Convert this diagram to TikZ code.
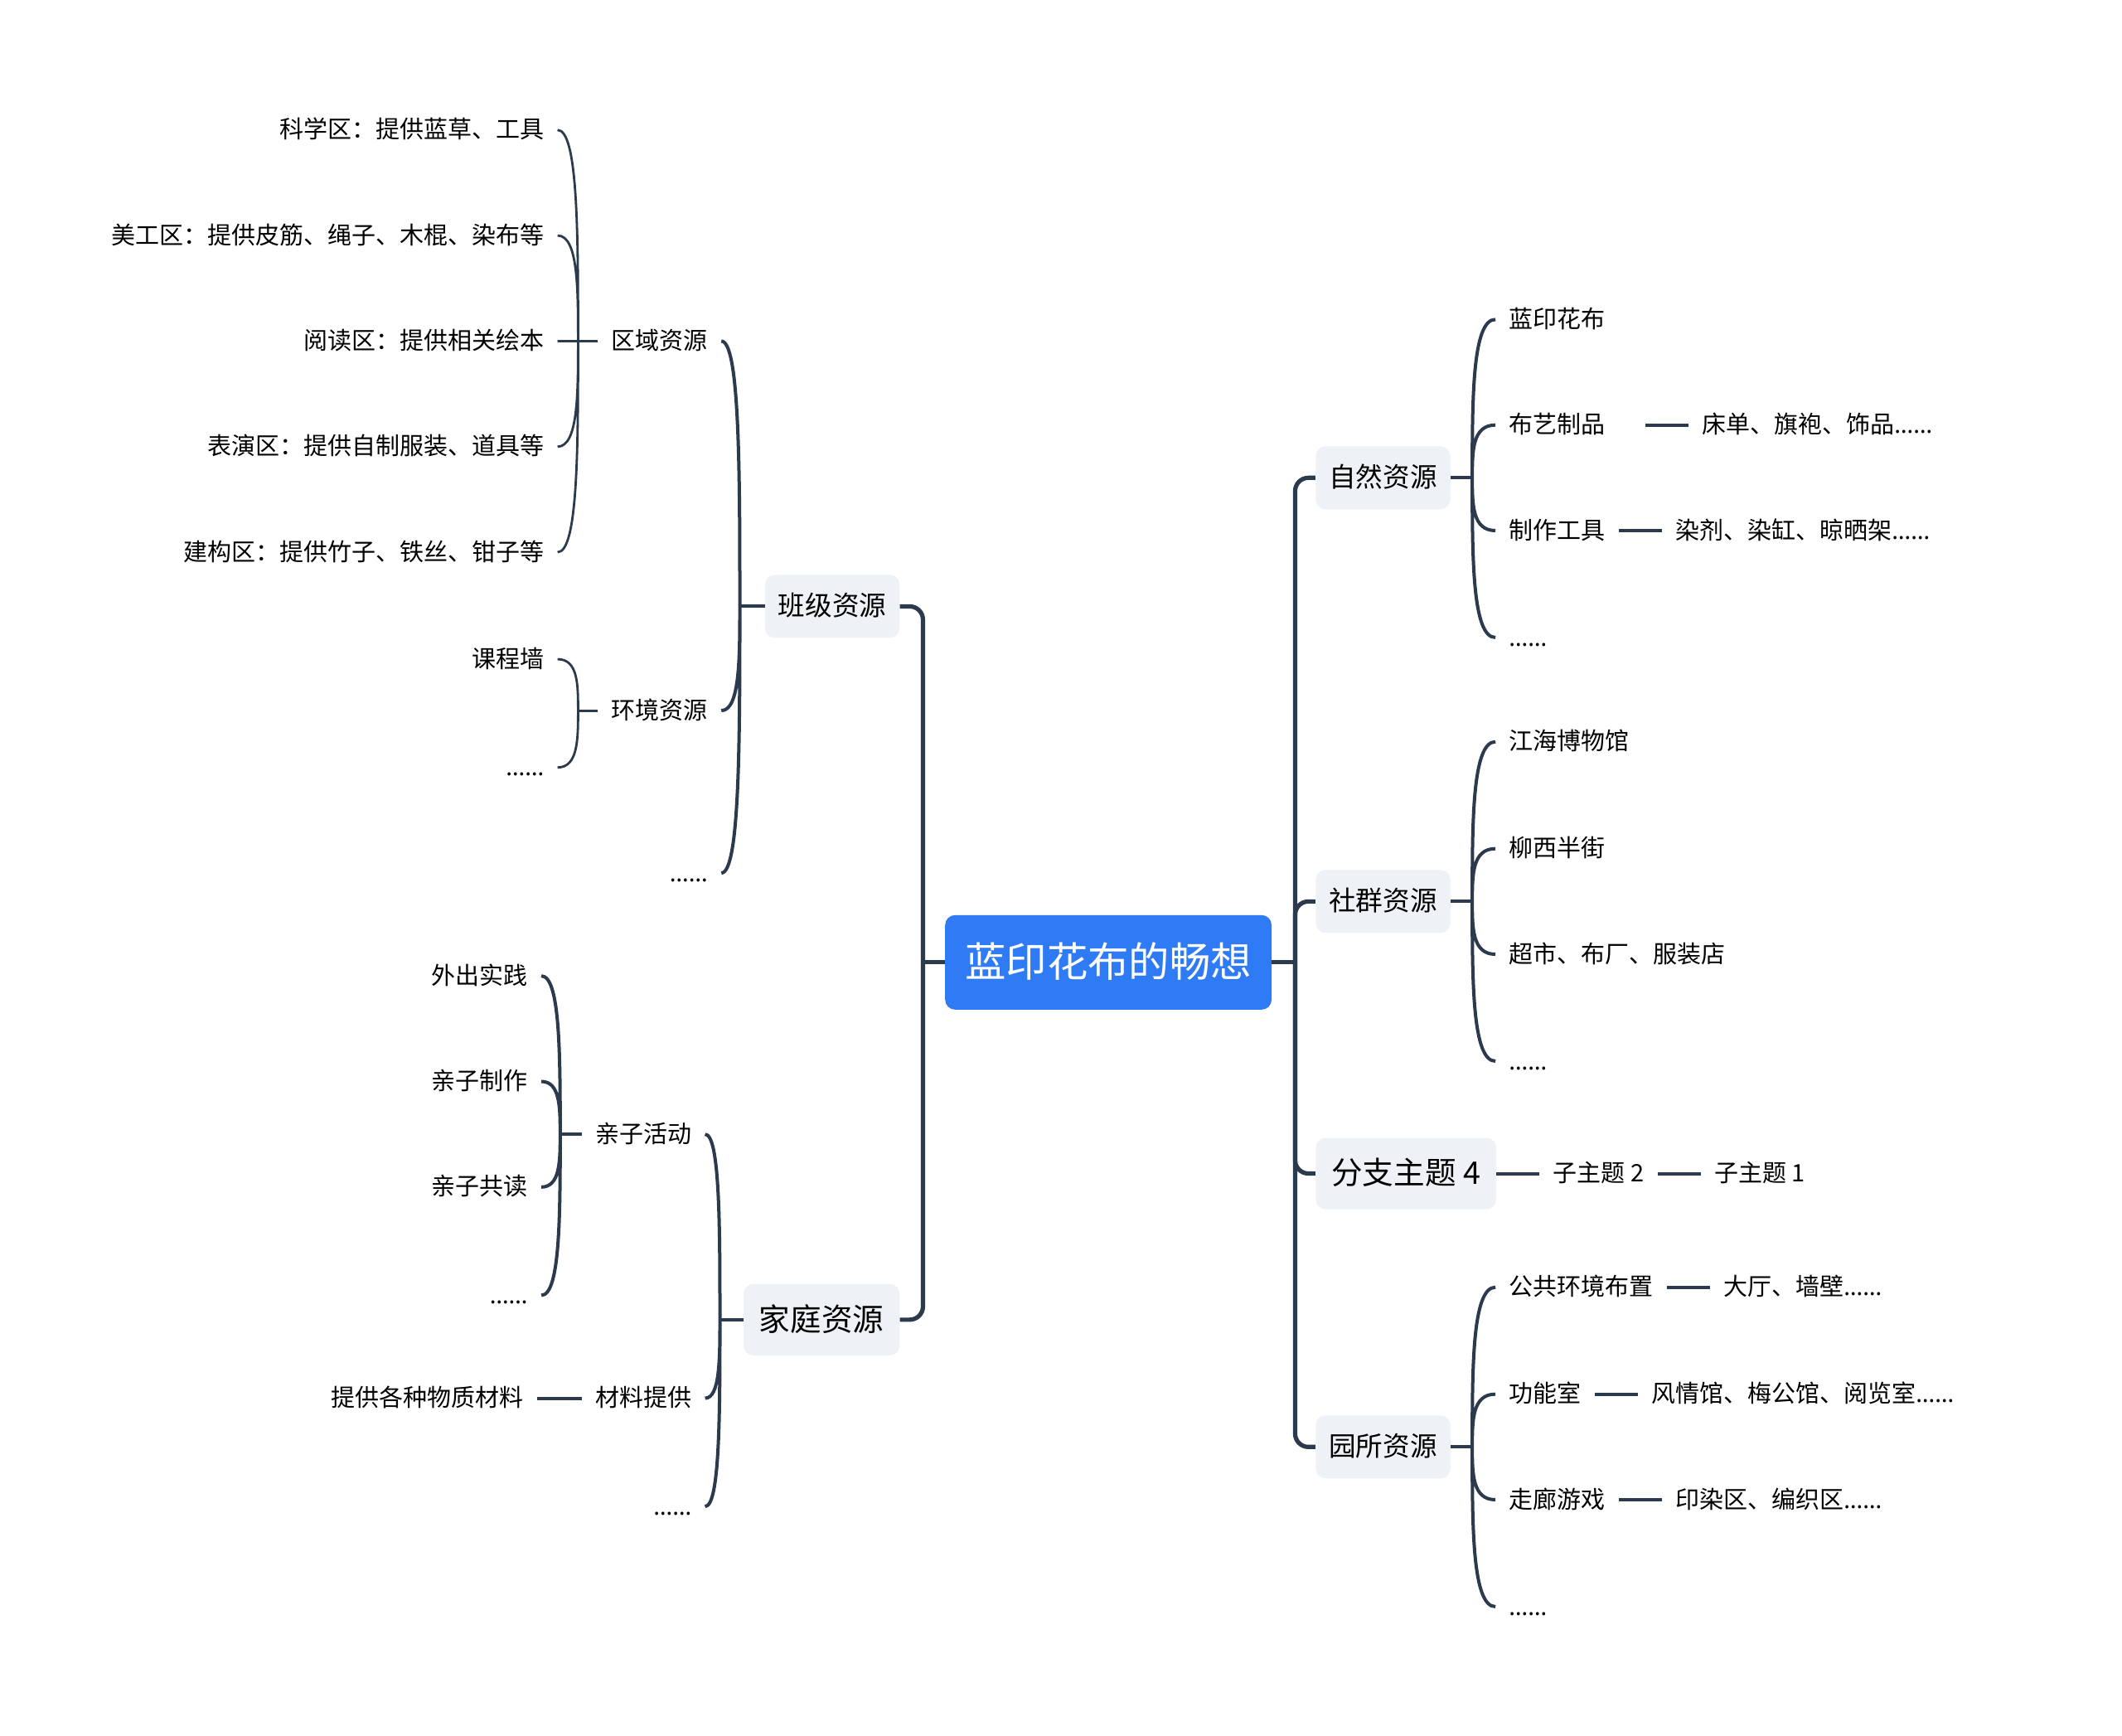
\documentclass[tikz,border=0pt]{standalone}
\usepackage{fontspec}
\setmainfont{Noto Sans CJK SC}
\newfontfamily\dotfont{Noto Sans}
\usetikzlibrary{positioning, calc}

\definecolor{linec}{RGB}{44,58,78}
\definecolor{topicfill}{RGB}{238,241,245}
\definecolor{rootfill}{RGB}{47,123,245}

\tikzset{
  % central topic
  root/.style={fill=rootfill, text=white, rounded corners=6pt,
    font=\fontsize{24.7}{30}\selectfont, inner xsep=12pt,
    minimum height=57pt, text height=21pt, text depth=3.7pt},
  % main branches
  topic/.style={fill=topicfill, rounded corners=6pt,
    font=\fontsize{16.3}{20}\selectfont, inner xsep=8pt,
    minimum height=38pt, text height=13.9pt, text depth=2.4pt},
  bigtopic/.style={topic, font=\fontsize{18.8}{23}\selectfont,
    inner xsep=9.5pt, minimum height=43pt, text height=16pt, text depth=2.8pt},
  % plain labels
  leaf/.style={font=\fontsize{14.5}{18}\selectfont, inner xsep=8pt,
    inner ysep=1pt, text height=12.3pt, text depth=2.2pt},
  main/.style={draw=linec, line width=2.6pt},
  sub/.style={draw=linec, line width=2pt},
  twig/.style={draw=linec, line width=1.4pt},
  % bracket: leaves the junction upright, ends flat at the child
  br/.style={to path={.. controls ($(\tikztostart |- \tikztotarget)!.5!(\tikztostart)$)
    and (\tikztostart |- \tikztotarget) .. (\tikztotarget)}},
}

\begin{document}
\begin{tikzpicture}[x=0.8163pt, y=-0.8163pt]
  \fill[white] (0,0) rectangle (1568,1282);
  \useasboundingbox (0,0) rectangle (1568,1282);

  \node[root] (root) at (819,711) {蓝印花布的畅想};
  \coordinate (ls) at (682,711);
  \coordinate (rs) at (957,711);

  % left side
  \node[topic, anchor=east] (bj) at (665,448) {班级资源};
  \node[bigtopic, anchor=east] (jt) at (665,975) {家庭资源};
  \draw[main] (root.west) -- (ls);
  \draw[main, rounded corners=8pt] (ls) |- (bj.east);
  \draw[main, rounded corners=8pt] (ls) |- (jt.east);

  % right side
  \node[topic, anchor=west] (zr) at (972,353) {自然资源};
  \node[topic, anchor=west] (sq) at (972,666) {社群资源};
  \node[bigtopic, anchor=west] (fz) at (972,867) {分支主题 4};
  \node[topic, anchor=west] (ys) at (972,1069) {园所资源};
  \draw[main] (root.east) -- (rs);
  \draw[main, rounded corners=8pt] (rs) |- (zr.west);
  \draw[main, rounded corners=8pt] (rs) |- (sq.west);
  \draw[main, rounded corners=8pt] (rs) |- (fz.west);
  \draw[main, rounded corners=8pt] (rs) |- (ys.west);

  % 班级资源
  \coordinate[left=15pt of bj.west] (bjj);
  \node[leaf, anchor=east] (qy) at (533,252) {区域资源};
  \node[leaf, anchor=east] (hj) at (533,525) {环境资源};
  \node[leaf, anchor=east] (bjd) at (533,645) {\dotfont ……};
  \draw[sub] (bj.west) -- (bjj);
  \draw[sub] (bjj) to[br] (qy.east) (bjj) to[br] (hj.east) (bjj) to[br] (bjd.east);

  \coordinate[left=12pt of qy.west] (qyj);
  \node[leaf, anchor=east] (q1) at (412,96) {科学区：提供蓝草、工具};
  \node[leaf, anchor=east] (q2) at (412,174) {美工区：提供皮筋、绳子、木棍、染布等};
  \node[leaf, anchor=east] (q3) at (412,252) {阅读区：提供相关绘本};
  \node[leaf, anchor=east] (q4) at (412,330) {表演区：提供自制服装、道具等};
  \node[leaf, anchor=east] (q5) at (412,408) {建构区：提供竹子、铁丝、钳子等};
  \draw[twig] (qy.west) -- (qyj);
  \draw[twig] (qyj) to[br] (q1.east) (qyj) to[br] (q2.east) (qyj) to[br] (q3.east)
    (qyj) to[br] (q4.east) (qyj) to[br] (q5.east);

  \coordinate[left=12pt of hj.west] (hjj);
  \node[leaf, anchor=east] (h1) at (412,487) {课程墙};
  \node[leaf, anchor=east] (h2) at (412,567) {\dotfont ……};
  \draw[twig] (hj.west) -- (hjj);
  \draw[twig] (hjj) to[br] (h1.east) (hjj) to[br] (h2.east);

  % 家庭资源
  \coordinate[left=14pt of jt.west] (jtj);
  \node[leaf, anchor=east] (qz) at (521,838) {亲子活动};
  \node[leaf, anchor=east] (cl) at (521,1033) {材料提供};
  \node[leaf, anchor=east] (jtd) at (521,1113) {\dotfont ……};
  \draw[sub] (jt.west) -- (jtj);
  \draw[sub] (jtj) to[br] (qz.east) (jtj) to[br] (cl.east) (jtj) to[br] (jtd.east);

  \coordinate[left=13pt of qz.west] (qzj);
  \node[leaf, anchor=east] (p1) at (400,721) {外出实践};
  \node[leaf, anchor=east] (p2) at (400,799) {亲子制作};
  \node[leaf, anchor=east] (p3) at (400,877) {亲子共读};
  \node[leaf, anchor=east] (p4) at (400,957) {\dotfont ……};
  \draw[sub] (qz.west) -- (qzj);
  \draw[sub] (qzj) to[br] (p1.east) (qzj) to[br] (p2.east) (qzj) to[br] (p3.east)
    (qzj) to[br] (p4.east);

  \node[leaf, left=27pt of cl] (cl1) {提供各种物质材料};
  \draw[sub] (cl.west) -- (cl1.east);

  % 自然资源
  \coordinate[right=13pt of zr.east] (zrj);
  \node[leaf, anchor=west] (z1) at (1105,236) {蓝印花布};
  \node[leaf, anchor=west] (z2) at (1105,314) {布艺制品};
  \node[leaf, anchor=west] (z3) at (1105,392) {制作工具};
  \node[leaf, anchor=west] (z4) at (1105,471) {\dotfont ……};
  \draw[sub] (zr.east) -- (zrj);
  \draw[sub] (zrj) to[br] (z1.west) (zrj) to[br] (z2.west) (zrj) to[br] (z3.west)
    (zrj) to[br] (z4.west);
  \node[leaf, right=42pt of z2] (z2a) {床单、旗袍、饰品{\dotfont ……}};
  \node[leaf, right=26pt of z3] (z3a) {染剂、染缸、晾晒架{\dotfont ……}};
  \draw[sub] ([xshift=16pt]z2.east) -- (z2a.west);
  \draw[sub] (z3.east) -- (z3a.west);

  % 社群资源
  \coordinate[right=13pt of sq.east] (sqj);
  \node[leaf, anchor=west] (s1) at (1105,548) {江海博物馆};
  \node[leaf, anchor=west] (s2) at (1105,627) {柳西半街};
  \node[leaf, anchor=west] (s3) at (1105,705) {超市、布厂、服装店};
  \node[leaf, anchor=west] (s4) at (1105,784) {\dotfont ……};
  \draw[sub] (sq.east) -- (sqj);
  \draw[sub] (sqj) to[br] (s1.west) (sqj) to[br] (s2.west) (sqj) to[br] (s3.west)
    (sqj) to[br] (s4.west);

  % 分支主题 4
  \node[leaf, right=26pt of fz] (fz1) {子主题 2};
  \node[leaf, right=26pt of fz1] (fz2) {子主题 1};
  \draw[sub] (fz.east) -- (fz1.west) (fz1.east) -- (fz2.west);

  % 园所资源
  \coordinate[right=13pt of ys.east] (ysj);
  \node[leaf, anchor=west] (y1) at (1105,951) {公共环境布置};
  \node[leaf, anchor=west] (y2) at (1105,1030) {功能室};
  \node[leaf, anchor=west] (y3) at (1105,1108) {走廊游戏};
  \node[leaf, anchor=west] (y4) at (1105,1187) {\dotfont ……};
  \draw[sub] (ys.east) -- (ysj);
  \draw[sub] (ysj) to[br] (y1.west) (ysj) to[br] (y2.west) (ysj) to[br] (y3.west)
    (ysj) to[br] (y4.west);
  \node[leaf, right=26pt of y1] (y1a) {大厅、墙壁{\dotfont ……}};
  \node[leaf, right=26pt of y2] (y2a) {风情馆、梅公馆、阅览室{\dotfont ……}};
  \node[leaf, right=26pt of y3] (y3a) {印染区、编织区{\dotfont ……}};
  \draw[sub] (y1.east) -- (y1a.west) (y2.east) -- (y2a.west) (y3.east) -- (y3a.west);
\end{tikzpicture}
\end{document}
